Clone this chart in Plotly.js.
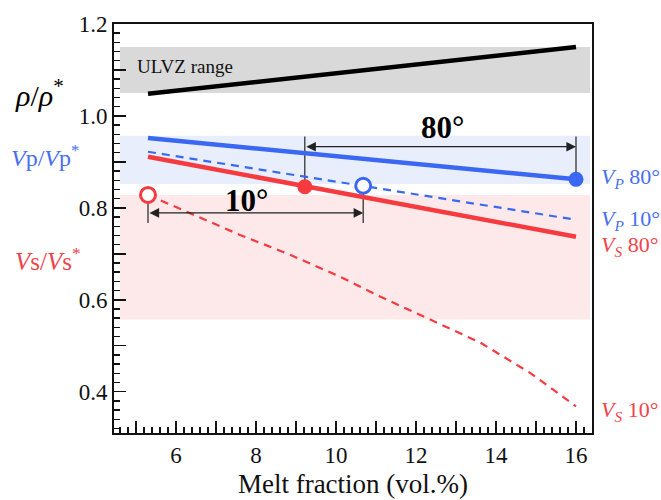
<!DOCTYPE html>
<html>
<head>
<meta charset="utf-8">
<script src="https://cdn.plot.ly/plotly-3.0.1.min.js"></script>
<style>html,body{margin:0;padding:0;background:#fff;}#chart{width:661px;height:500px;}</style>
</head>
<body>
<div id="chart"></div>
<script>
// ---- data ----
const xRho = [5.3, 16.0];
const rho = [1.048, 1.150];

const xVp80 = [5.3, 16.0];
const vp80 = [0.952, 0.862];

const xVp10 = [5.3, 16.0];
const vp10 = [0.922, 0.774];

const xVs80 = [5.3, 16.0];
const vs80 = [0.911, 0.737];

const xVs10 = [5.3, 6.35, 7.6, 8.85, 10.1, 11.1, 12.35, 13.6, 14.85, 16.0];
const vs10 = [0.828, 0.789, 0.741, 0.698, 0.650, 0.607, 0.557, 0.507, 0.441, 0.368];

// highlighted points (x, y)
const ptVp80 = [16.0, 0.862];   // filled blue
const ptVs80 = [9.22, 0.846];   // filled red
const ptVp10 = [10.68, 0.848];  // open blue
const ptVs10 = [5.3, 0.828];    // open red

// ranges (bands)
const bandX = [4.6, 16.35];
const ulvzBand = [1.05, 1.15];
const vpBand = [0.852, 0.957];
const vsBand = [0.557, 0.828];

// arrow levels
const arrow80Y = 0.933;
const arrow10Y = 0.789;
const tickTopY = 0.955;
const tickBottomY = 0.767;

// axis ticks
const xTickVals = [5, 6, 7, 8, 9, 10, 11, 12, 13, 14, 15, 16];
const xTickText = ['', '6', '', '8', '', '10', '', '12', '', '14', '', '16'];
const yTickVals = [0.4, 0.5, 0.6, 0.7, 0.8, 0.9, 1.0, 1.1, 1.2];
const yTickText = ['0.4', '', '0.6', '', '0.8', '', '1.0', '', '1.2'];

const BLUE = '#3a68f2';
const RED = '#f53a40';
const BLUE_T = '#4a6ef0';
const RED_T = '#f4424a';
const SERIF = 'Liberation Serif';

const traces = [
  {x: xRho, y: rho, mode: 'lines', line: {color: '#000', width: 4.5}},
  {x: xVp80, y: vp80, mode: 'lines', line: {color: BLUE, width: 4.5}},
  {x: xVp10, y: vp10, mode: 'lines', line: {color: BLUE, width: 2.2, dash: '8px,6px'}},
  {x: xVs80, y: vs80, mode: 'lines', line: {color: RED, width: 4.5}},
  {x: xVs10, y: vs10, mode: 'lines', line: {color: RED, width: 2.2, dash: '8px,6px'}},
  {x: [ptVp80[0]], y: [ptVp80[1]], mode: 'markers', marker: {color: BLUE, size: 15, line: {width: 0}}},
  {x: [ptVs80[0]], y: [ptVs80[1]], mode: 'markers', marker: {color: RED, size: 15, line: {width: 0}}},
  {x: [ptVp10[0]], y: [ptVp10[1]], mode: 'markers', marker: {color: '#fff', size: 15, line: {color: BLUE, width: 3}}},
  {x: [ptVs10[0]], y: [ptVs10[1]], mode: 'markers', marker: {color: '#fff', size: 15, line: {color: RED, width: 3}}}
];

const band = (yr, color) => ({type: 'rect', xref: 'x', yref: 'y', x0: bandX[0], x1: bandX[1], y0: yr[0], y1: yr[1],
  fillcolor: color, line: {width: 0}, layer: 'below'});
const vline = (x, y0, y1) => ({type: 'line', xref: 'x', yref: 'y', x0: x, x1: x, y0: y0, y1: y1,
  line: {color: '#333', width: 1.3}, layer: 'below'});

const shapes = [
  band(ulvzBand, '#d9d9d9'),
  band(vpBand, '#e9eefc'),
  band(vsBand, '#fde9e9'),
  vline(ptVs80[0], tickTopY, ptVs80[1]),
  vline(ptVp80[0], tickTopY, ptVp80[1]),
  vline(ptVs10[0], ptVs10[1], tickBottomY),
  vline(ptVp10[0], ptVp10[1], tickBottomY)
];

// pixel helpers for labels outside the plot
const M = {l: 114, r: 69, t: 24, b: 67};
const W = 661, H = 500;
const pw = W - M.l - M.r, ph = H - M.t - M.b;
const px = p => (p - M.l) / pw;
const py = p => (H - M.b - p) / ph;

const arrow = (x0, x1, y) => ({x: x1, y: y, ax: x0, ay: y, xref: 'x', yref: 'y', axref: 'x', ayref: 'y',
  text: '', showarrow: true, arrowhead: 2, startarrowhead: 2, arrowside: 'end+start', arrowsize: 1.6, startarrowsize: 1.6,
  arrowwidth: 1.2, arrowcolor: '#222', standoff: 0, startstandoff: 0});

const lab = (text, x, y, color, size, anchor) => ({text: text, xref: 'paper', yref: 'paper', x: px(x), y: py(y),
  xanchor: anchor || 'left', yanchor: 'middle', showarrow: false, font: {family: SERIF, size: size, color: color}});

const annotations = [
  arrow(ptVs80[0], ptVp80[0], arrow80Y),
  arrow(ptVs10[0], ptVp10[0], arrow10Y),
  {text: '<b>80°</b>', x: 12.65, y: 0.974, xref: 'x', yref: 'y', showarrow: false, font: {family: SERIF, size: 31, color: '#000'}},
  {text: '<b>10°</b>', x: 7.75, y: 0.817, xref: 'x', yref: 'y', showarrow: false, font: {family: SERIF, size: 31, color: '#000'}},
  {text: 'ULVZ range', x: 4.98, y: 1.108, xref: 'x', yref: 'y', xanchor: 'left', showarrow: false, font: {family: SERIF, size: 19, color: '#111'}},
  lab('<i>ρ</i>/<i>ρ</i><sup>*</sup>', 13, 93, '#000', 30),
  lab('<i>V</i>p/<i>V</i>p<sup>*</sup>', 9, 156, BLUE_T, 24),
  lab('<i>V</i>s/<i>V</i>s<sup>*</sup>', 13, 259, RED_T, 25),
  lab('<i>V<sub>P</sub></i> 80°', 599, 178, BLUE_T, 22),
  lab('<i>V<sub>P</sub></i> 10°', 599, 220, BLUE_T, 22),
  lab('<i>V<sub>S</sub></i> 80°', 599, 246, RED_T, 22),
  lab('<i>V<sub>S</sub></i> 10°', 599, 411, RED_T, 22)
];

const axisCommon = {
  ticks: 'inside', ticklen: 12, tickwidth: 1.6, tickcolor: '#111',
  showline: true, linewidth: 2, linecolor: '#111', mirror: true,
  showgrid: false, zeroline: false,
  tickfont: {family: SERIF, size: 23, color: '#111'}
};

const layout = {
  width: W, height: H,
  margin: M,
  font: {family: SERIF, color: '#111'},
  paper_bgcolor: '#fff', plot_bgcolor: '#fff',
  showlegend: false,
  xaxis: Object.assign({}, axisCommon, {
    range: [4.45, 16.4], tickmode: 'array', tickvals: xTickVals, ticktext: xTickText,
    minor: {tickmode: 'linear', tick0: 0, dtick: 0.2, ticks: 'inside', ticklen: 6, tickwidth: 1.4, tickcolor: '#111', showgrid: false},
    title: {text: 'Melt fraction (vol.%)', font: {family: SERIF, size: 27, color: '#111'}, standoff: 8}
  }),
  yaxis: Object.assign({}, axisCommon, {
    range: [0.31, 1.2], tickmode: 'array', tickvals: yTickVals, ticktext: yTickText,
    minor: {tickmode: 'linear', tick0: 0, dtick: 0.02, ticks: 'inside', ticklen: 6, tickwidth: 1.4, tickcolor: '#111', showgrid: false}
  }),
  shapes: shapes,
  annotations: annotations
};

Plotly.newPlot('chart', traces, layout, {displayModeBar: false, staticPlot: true});
</script>
</body>
</html>
